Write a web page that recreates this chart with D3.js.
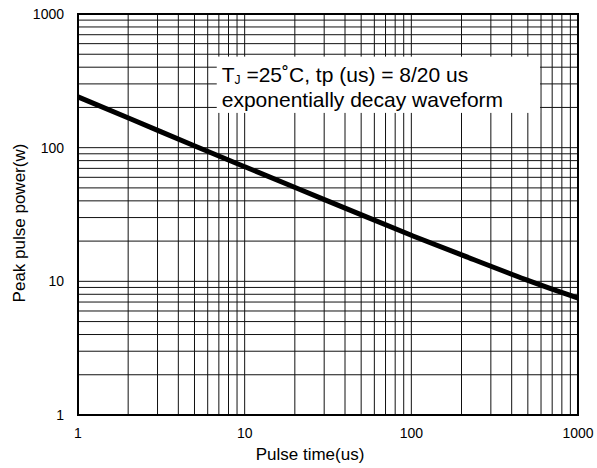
<!DOCTYPE html>
<head>
<meta charset="utf-8">
<style>
body { margin: 0; background: #fff; }
text { font-family: "Liberation Sans", Arial, sans-serif; fill: #000; }
.grid line { stroke: #111; stroke-width: 1px; }
.curve { fill: none; stroke: #000; stroke-width: 5px; stroke-linecap: butt; }
</style>
<script src="https://d3js.org/d3.v7.min.js"></script>
</head>
<body>
<svg class="chart" width="597" height="468"></svg>
<script>
// Pulse time (us) and peak pulse power (w)
var pulseTime = [1, 2, 5, 10, 20, 50, 100, 200, 500, 1000];
var peakPower = [240, 167, 103, 72, 50.5, 31.5, 22, 15.8, 10.1, 7.5];
var xTicks = [1, 10, 100, 1000];
var yTicks = [1, 10, 100, 1000];
var noteLines = ["=25\u02DAC, tp (us) = 8/20 us", "exponentially decay waveform"];

var svg = d3.select(".chart"),
  margin = {top: 14, right: 19, bottom: 53, left: 78},
  width = 597 - margin.left - margin.right,
  height = 468 - margin.top - margin.bottom,
  g = svg.append("g").attr("transform", "translate(" + margin.left + "," + margin.top + ")");

var x = d3.scaleLog().domain([1, 1000]).range([0, width]);
var y = d3.scaleLog().domain([1, 1000]).range([height, 0]);

// minor + major grid values 1..9 per decade
var gridVals = [];
[1, 10, 100].forEach(function(d) {
  for (var i = 1; i < 10; i++) gridVals.push(d * i);
});
gridVals.push(1000);

var grid = g.append("g").attr("class", "grid");
grid.selectAll(".gx").data(gridVals).enter().append("line")
  .attr("x1", function(d) { return x(d); })
  .attr("x2", function(d) { return x(d); })
  .attr("y1", 0).attr("y2", height);
grid.selectAll(".gy").data(gridVals).enter().append("line")
  .attr("y1", function(d) { return y(d); })
  .attr("y2", function(d) { return y(d); })
  .attr("x1", 0).attr("x2", width);

// frame
g.append("rect")
  .attr("width", width).attr("height", height)
  .attr("fill", "none").attr("stroke", "#000").attr("stroke-width", 2);

// note box
var box = g.append("g");
var bx = x(6.8), by = y(480);
box.append("rect")
  .attr("x", bx).attr("y", by)
  .attr("width", x(592) - bx).attr("height", y(182) - by)
  .attr("fill", "#fff");
var note = box.append("text").attr("font-size", "21px");
note.append("tspan").attr("x", bx + 5).attr("y", by + 25).text("T");
note.append("tspan").attr("font-size", "12px").attr("dy", 2).text("J");
note.append("tspan").attr("dy", -2).text(" " + noteLines[0]);
box.append("text").attr("font-size", "21px")
  .attr("x", bx + 5).attr("y", by + 50).text(noteLines[1]);

// curve
var line = d3.line()
  .curve(d3.curveBasis)
  .x(function(d, i) { return x(pulseTime[i]); })
  .y(function(d) { return y(d); });
g.append("path").datum(peakPower).attr("class", "curve").attr("d", line);

// tick labels
g.selectAll(".xl").data(xTicks).enter().append("text")
  .attr("x", function(d) { return x(d); })
  .attr("y", height + 23)
  .attr("text-anchor", "middle").attr("font-size", "14px")
  .text(function(d) { return d; });
g.selectAll(".yl").data(yTicks).enter().append("text")
  .attr("x", -14)
  .attr("y", function(d) { return y(d); })
  .attr("dy", "0.35em")
  .attr("text-anchor", "end").attr("font-size", "14px")
  .text(function(d) { return d; });

// axis titles
svg.append("text")
  .attr("x", 310).attr("y", 460)
  .attr("text-anchor", "middle").attr("font-size", "17px")
  .text("Pulse time(us)");
svg.append("text")
  .attr("transform", "translate(25,223) rotate(-90)")
  .attr("text-anchor", "middle").attr("font-size", "17px")
  .text("Peak pulse power(w)");
</script>
</body>
